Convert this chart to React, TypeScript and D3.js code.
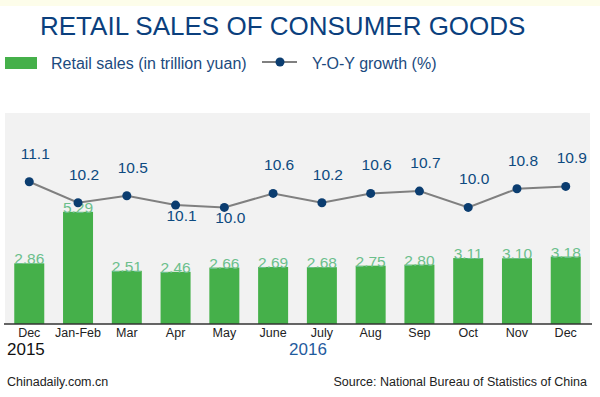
import * as d3 from "d3";

// categories (two "Dec" entries, so index based domain)
const months = ["Dec", "Jan-Feb", "Mar", "Apr", "May", "June", "July", "Aug", "Sep", "Oct", "Nov", "Dec"];
const retailSales = [2.86, 5.29, 2.51, 2.46, 2.66, 2.69, 2.68, 2.75, 2.80, 3.11, 3.10, 3.18];
const yoyGrowth = [11.1, 10.2, 10.5, 10.1, 10.0, 10.6, 10.2, 10.6, 10.7, 10.0, 10.8, 10.9];
// which growth labels sit under their dot
const growthLabelBelow = [false, false, false, true, true, false, false, false, false, false, false, false];

const W = 600;
const H = 397;
const plot = { left: 5, right: 590, top: 113, bottom: 324 };
const FONT = "'Liberation Sans', Arial, sans-serif";

const App = () => {
  const idx = months.map((_, i) => i);

  const x = d3.scaleBand<number>()
    .domain(idx)
    .range([plot.left, plot.right])
    .paddingInner(0.385)
    .paddingOuter(0.19);

  // bar scale (trillion yuan)
  const ySales = d3.scaleLinear().domain([0, 9.95]).range([plot.bottom, plot.top]);
  // growth scale (%)
  const yGrowth = d3.scaleLinear().domain([5, 14.05]).range([plot.bottom, plot.top]);

  const cx = (i: number) => (x(i) as number) + x.bandwidth() / 2;

  const line = d3.line<number>()
    .x((_, i) => cx(i))
    .y(d => yGrowth(d));

  return (
    <svg width={W} height={H} style={{ position: "absolute", left: 0, top: 0 }} fontFamily={FONT}>
      <rect x={0} y={0} width={W} height={H} fill="#ffffff" />
      <rect x={0} y={0} width={W} height={6} fill="#fdfdea" />

      {/* title */}
      <text x={40} y={35} fontSize={26} fill="#0b3f7d">RETAIL SALES OF CONSUMER GOODS</text>

      {/* legend */}
      <rect x={5} y={57} width={32} height={12} fill="#45b04a" />
      <text x={51} y={69} fontSize={16} fill="#1b4a7e">Retail sales (in trillion yuan)</text>
      <line x1={262} x2={297} y1={62} y2={62} stroke="#808080" strokeWidth={2} />
      <circle cx={280} cy={62} r={4.5} fill="#0b3d70" />
      <text x={312} y={69} fontSize={16} fill="#1b4a7e">Y-O-Y growth (%)</text>

      {/* plot background */}
      <rect x={plot.left} y={plot.top} width={plot.right - plot.left} height={plot.bottom - plot.top} fill="#f2f2f2" />

      {/* bars */}
      {retailSales.map((v, i) => (
        <rect key={"b" + i} x={x(i)} y={ySales(v)} width={x.bandwidth()} height={plot.bottom - ySales(v)} fill="#45b04a" />
      ))}
      {retailSales.map((v, i) => (
        <text key={"bl" + i} x={cx(i)} y={ySales(v) + 1} textAnchor="middle" fontSize={15.5} fill="#6cbf8c">
          {v.toFixed(2)}
        </text>
      ))}

      {/* growth line */}
      <path d={line(yoyGrowth) ?? ""} fill="none" stroke="#808080" strokeWidth={2} />
      {yoyGrowth.map((v, i) => (
        <circle key={"c" + i} cx={cx(i)} cy={yGrowth(v)} r={4.5} fill="#0b3d70" />
      ))}
      {yoyGrowth.map((v, i) => (
        <text key={"gl" + i} x={cx(i) + 6} y={growthLabelBelow[i] ? yGrowth(v) + 16 : yGrowth(v) - 23}
          textAnchor="middle" fontSize={15.5} fill="#0d4a80">
          {v.toFixed(1)}
        </text>
      ))}

      {/* x axis */}
      <line x1={4} x2={592} y1={plot.bottom} y2={plot.bottom} stroke="#333333" strokeWidth={1.5} />
      {months.map((m, i) => (
        <text key={"t" + i} x={cx(i)} y={337} textAnchor="middle" fontSize={12.5} fill="#222222">{m}</text>
      ))}
      <text x={7} y={355} fontSize={17} fill="#111111">2015</text>
      <text x={308} y={355} textAnchor="middle" fontSize={17} fill="#1f5b9e">2016</text>

      {/* footer */}
      <text x={7} y={386} fontSize={12.5} fill="#222222">Chinadaily.com.cn</text>
      <text x={587} y={386} textAnchor="end" fontSize={12.5} fill="#222222">Source: National Bureau of Statistics of China</text>
    </svg>
  );
};

export default App;
